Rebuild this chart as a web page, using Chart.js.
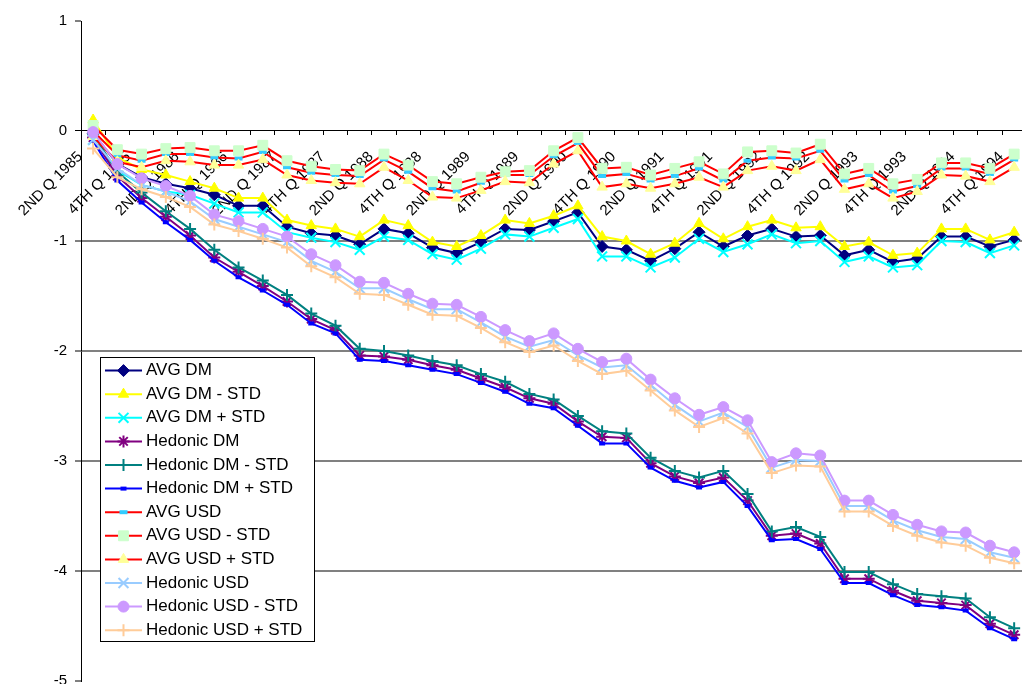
<!DOCTYPE html>
<html>
<head>
<meta charset="utf-8">
<title>AVG and Hedonic indices, DM and USD</title>
<script src="https://cdn.jsdelivr.net/npm/chart.js@4/dist/chart.umd.min.js"></script>
<style>
    html, body { margin: 0; padding: 0; background: #fff; overflow: hidden; }
    #indexChart { display: block; }
</style>
</head>
<body>
<canvas id="indexChart" width="1040" height="700"></canvas>
<script>
const quarters = [
    '2ND Q 1985', '3RD Q 1985', '4TH Q 1985',
    '1ST Q 1986', '2ND Q 1986', '3RD Q 1986', '4TH Q 1986',
    '1ST Q 1987', '2ND Q 1987', '3RD Q 1987', '4TH Q 1987',
    '1ST Q 1988', '2ND Q 1988', '3RD Q 1988', '4TH Q 1988',
    '1ST Q 1989', '2ND Q 1989', '3RD Q 1989', '4TH Q 1989',
    '1ST Q 1990', '2ND Q 1990', '3RD Q 1990', '4TH Q 1990',
    '1ST Q 1991', '2ND Q 1991', '3RD Q 1991', '4TH Q 1991',
    '1ST Q 1992', '2ND Q 1992', '3RD Q 1992', '4TH Q 1992',
    '1ST Q 1993', '2ND Q 1993', '3RD Q 1993', '4TH Q 1993',
    '1ST Q 1994', '2ND Q 1994', '3RD Q 1994', '4TH Q 1994'
];

const avgDm = [-0.02, -0.30, -0.42, -0.48, -0.52, -0.58, -0.68, -0.68, -0.87, -0.93, -0.95, -1.03, -0.89,
    -0.93, -1.06, -1.11, -1.01, -0.89, -0.90, -0.82, -0.74, -1.05, -1.08, -1.18, -1.07, -0.92, -1.05,
    -0.95, -0.89, -0.96, -0.95, -1.13, -1.08, -1.19, -1.16, -0.96, -0.96, -1.05, -0.99];
const avgDmMinus = [0.10, -0.24, -0.35, -0.40, -0.46, -0.52, -0.61, -0.61, -0.81, -0.86, -0.89, -0.96, -0.81,
    -0.86, -1.01, -1.05, -0.95, -0.81, -0.84, -0.77, -0.68, -0.96, -1.00, -1.12, -1.02, -0.84, -0.98,
    -0.87, -0.81, -0.88, -0.87, -1.05, -1.01, -1.13, -1.11, -0.89, -0.89, -0.99, -0.92];
const avgDmPlus = [-0.08, -0.36, -0.49, -0.55, -0.58, -0.66, -0.74, -0.74, -0.92, -0.97, -1.01, -1.08, -0.96,
    -0.99, -1.12, -1.17, -1.07, -0.94, -0.96, -0.88, -0.80, -1.14, -1.14, -1.24, -1.15, -0.98, -1.10,
    -1.03, -0.94, -1.02, -1.00, -1.19, -1.14, -1.24, -1.22, -1.00, -1.01, -1.11, -1.04];

const hedDm = [-0.06, -0.41, -0.61, -0.78, -0.95, -1.15, -1.28, -1.41, -1.55, -1.71, -1.81, -2.04, -2.05,
    -2.08, -2.13, -2.17, -2.25, -2.33, -2.43, -2.48, -2.64, -2.78, -2.79, -3.02, -3.14, -3.20, -3.15,
    -3.36, -3.68, -3.66, -3.75, -4.07, -4.07, -4.18, -4.27, -4.29, -4.31, -4.48, -4.58];
const hedDmMinus = [-0.03, -0.37, -0.56, -0.73, -0.89, -1.08, -1.24, -1.36, -1.49, -1.66, -1.77, -1.98, -2.00,
    -2.04, -2.09, -2.13, -2.21, -2.28, -2.39, -2.44, -2.59, -2.73, -2.75, -2.97, -3.09, -3.15, -3.09,
    -3.30, -3.64, -3.60, -3.69, -4.01, -4.01, -4.12, -4.21, -4.23, -4.25, -4.42, -4.52];
const hedDmPlus = [-0.09, -0.45, -0.65, -0.83, -0.99, -1.18, -1.33, -1.45, -1.58, -1.75, -1.84, -2.08, -2.09,
    -2.13, -2.17, -2.21, -2.29, -2.37, -2.48, -2.52, -2.68, -2.84, -2.84, -3.06, -3.18, -3.24, -3.19,
    -3.41, -3.72, -3.71, -3.80, -4.11, -4.11, -4.22, -4.31, -4.33, -4.36, -4.52, -4.62];

const avgUsd = [0.00, -0.22, -0.27, -0.21, -0.21, -0.24, -0.25, -0.19, -0.33, -0.38, -0.40, -0.41, -0.26,
    -0.37, -0.52, -0.55, -0.47, -0.40, -0.40, -0.23, -0.11, -0.41, -0.39, -0.45, -0.41, -0.34, -0.45,
    -0.27, -0.24, -0.25, -0.18, -0.45, -0.40, -0.55, -0.50, -0.34, -0.34, -0.39, -0.26];
const avgUsdMinus = [0.05, -0.17, -0.21, -0.16, -0.15, -0.18, -0.18, -0.13, -0.27, -0.32, -0.35, -0.36, -0.21,
    -0.31, -0.46, -0.48, -0.42, -0.37, -0.36, -0.18, -0.06, -0.34, -0.33, -0.40, -0.34, -0.28, -0.39,
    -0.19, -0.18, -0.20, -0.12, -0.39, -0.34, -0.48, -0.44, -0.29, -0.29, -0.34, -0.21];
const avgUsdPlus = [-0.05, -0.28, -0.33, -0.27, -0.28, -0.31, -0.31, -0.26, -0.40, -0.45, -0.47, -0.48, -0.33,
    -0.45, -0.60, -0.61, -0.54, -0.46, -0.47, -0.30, -0.18, -0.51, -0.48, -0.52, -0.48, -0.42, -0.51,
    -0.36, -0.32, -0.36, -0.26, -0.53, -0.48, -0.61, -0.55, -0.40, -0.41, -0.46, -0.33];

const hedUsd = [-0.08, -0.34, -0.49, -0.55, -0.64, -0.80, -0.87, -0.94, -1.01, -1.18, -1.28, -1.43, -1.43,
    -1.53, -1.62, -1.62, -1.74, -1.87, -1.96, -1.90, -2.04, -2.15, -2.13, -2.31, -2.49, -2.64, -2.56,
    -2.69, -3.06, -2.99, -3.00, -3.41, -3.41, -3.54, -3.63, -3.69, -3.71, -3.83, -3.88];
const hedUsdMinus = [-0.01, -0.30, -0.43, -0.50, -0.59, -0.76, -0.82, -0.89, -0.96, -1.12, -1.22, -1.37, -1.38,
    -1.48, -1.57, -1.58, -1.69, -1.81, -1.91, -1.84, -1.98, -2.10, -2.07, -2.26, -2.43, -2.58, -2.51,
    -2.63, -3.01, -2.93, -2.95, -3.36, -3.36, -3.49, -3.58, -3.64, -3.65, -3.77, -3.83];
const hedUsdPlus = [-0.16, -0.42, -0.53, -0.60, -0.69, -0.85, -0.91, -0.98, -1.06, -1.23, -1.33, -1.48, -1.49,
    -1.58, -1.67, -1.68, -1.79, -1.92, -2.01, -1.95, -2.09, -2.21, -2.18, -2.36, -2.54, -2.69, -2.61,
    -2.75, -3.11, -3.04, -3.05, -3.46, -3.46, -3.59, -3.68, -3.74, -3.77, -3.88, -3.93];

const yTicks = [1, 0, -1, -2, -3, -4, -5];

const FONT = "'Liberation Sans', Arial, sans-serif";

// series line + marker (Excel style)
const series = (label, data, line, style, fill, edge, radius, width) => ({
    label: label,
    data: data,
    borderColor: line,
    borderWidth: 2,
    pointStyle: style,
    pointRadius: radius,
    pointBackgroundColor: fill,
    pointBorderColor: edge,
    pointBorderWidth: width,
    tension: 0,
    fill: false
});

// legend drawn in a framed white box inside the plot, like the Excel original
const boxLegend = {
    id: 'boxLegend',
    afterDraw(chart, args, opts) {
        const ctx = chart.ctx;
        const sets = chart.data.datasets;
        ctx.save();
        ctx.fillStyle = '#fff';
        ctx.fillRect(opts.x, opts.y, opts.width, opts.height);
        ctx.strokeStyle = '#000';
        ctx.lineWidth = 1;
        ctx.strokeRect(opts.x + 0.5, opts.y + 0.5, opts.width, opts.height);
        ctx.font = `17px ${FONT}`;
        ctx.textBaseline = 'middle';
        sets.forEach((ds, i) => {
            const cy = opts.firstRow + i * opts.rowHeight;
            ctx.strokeStyle = ds.borderColor;
            ctx.lineWidth = 2;
            ctx.beginPath();
            ctx.moveTo(opts.x + 5, cy);
            ctx.lineTo(opts.x + 42, cy);
            ctx.stroke();
            ctx.fillStyle = ds.pointBackgroundColor;
            ctx.strokeStyle = ds.pointBorderColor;
            ctx.lineWidth = ds.pointBorderWidth;
            Chart.helpers.drawPoint(ctx, {
                pointStyle: ds.pointStyle,
                radius: ds.pointRadius,
                borderWidth: ds.pointBorderWidth,
                rotation: 0
            }, opts.x + 23.5, cy);
            ctx.fillStyle = '#000';
            ctx.fillText(ds.label, opts.x + 46, cy);
        });
        ctx.restore();
    }
};

document.addEventListener('DOMContentLoaded', function() {
    const datasets = [
        series('AVG DM', avgDm, '#000080', 'rectRot', '#000080', '#000080', 6, 1),
        series('AVG DM - STD', avgDmMinus, '#FFFF00', 'triangle', '#FFFF00', '#FFFF00', 6, 1),
        series('AVG DM + STD', avgDmPlus, '#00FFFF', 'crossRot', '#00FFFF', '#00FFFF', 7, 2),
        series('Hedonic DM', hedDm, '#800080', 'star', '#800080', '#800080', 6, 2),
        series('Hedonic DM - STD', hedDmMinus, '#008080', 'cross', '#008080', '#008080', 6, 2),
        series('Hedonic DM + STD', hedDmPlus, '#0000FF', 'line', '#0000FF', '#0000FF', 3, 4),
        series('AVG USD', avgUsd, '#FF0000', 'line', '#33CCFF', '#33CCFF', 4, 4),
        series('AVG USD - STD', avgUsdMinus, '#FF0000', 'rect', '#CCFFCC', '#CCFFCC', 7, 1),
        series('AVG USD + STD', avgUsdPlus, '#FF0000', 'triangle', '#FFFF99', '#FFFF99', 6, 1),
        series('Hedonic USD', hedUsd, '#99CCFF', 'crossRot', '#99CCFF', '#99CCFF', 7, 2),
        series('Hedonic USD - STD', hedUsdMinus, '#CC99FF', 'circle', '#CC99FF', '#CC99FF', 5.5, 1),
        series('Hedonic USD + STD', hedUsdPlus, '#FFCC99', 'cross', '#FFCC99', '#FFCC99', 6, 2)
    ];
    // later series painted on top, as in the workbook
    datasets.forEach((ds, i) => { ds.order = datasets.length - i; });

    new Chart(document.getElementById('indexChart'), {
        type: 'line',
        data: { labels: quarters, datasets: datasets },
        options: {
            responsive: false,
            animation: false,
            devicePixelRatio: 1,
            layout: { padding: { left: 0, top: 21, right: 7, bottom: 19 } },
            plugins: {
                legend: { display: false },
                tooltip: { enabled: false },
                boxLegend: { x: 100, y: 357, width: 214, height: 284, firstRow: 370.6, rowHeight: 23.6 }
            },
            scales: {
                x: {
                    type: 'category',
                    offset: true,
                    position: { y: 0 },
                    grid: {
                        offset: true,
                        drawOnChartArea: false,
                        drawTicks: true,
                        tickLength: 4,
                        tickColor: '#000'
                    },
                    border: { display: true, color: '#000', width: 1 },
                    ticks: {
                        autoSkip: false,
                        minRotation: 45,
                        maxRotation: 45,
                        padding: 13,
                        labelOffset: -13,
                        color: '#000',
                        font: { family: FONT, size: 15 },
                        callback: function(value, index) {
                            const q = quarters[index];
                            return (q.startsWith('2ND') || q.startsWith('4TH')) ? q : '';
                        }
                    }
                },
                y: {
                    min: -5,
                    max: 1,
                    afterBuildTicks: (scale) => { scale.ticks = yTicks.map(v => ({ value: v })); },
                    afterFit: (scale) => { scale.width = 81; },
                    grid: {
                        color: (ctx) => {
                            const v = ctx.tick ? ctx.tick.value : null;
                            if (v === 1 || v === -5) return 'rgba(0,0,0,0)';
                            return v === 0 ? '#000' : '#808080';
                        },
                        lineWidth: (ctx) => ctx.tick && ctx.tick.value === 0 ? 1 : 2,
                        tickLength: 6,
                        tickColor: '#000',
                        tickWidth: 1
                    },
                    border: { display: true, color: '#000', width: 1 },
                    ticks: {
                        padding: 8,
                        color: '#000',
                        font: { family: FONT, size: 15 }
                    }
                }
            }
        },
        plugins: [boxLegend]
    });
});
</script>
</body>
</html>
